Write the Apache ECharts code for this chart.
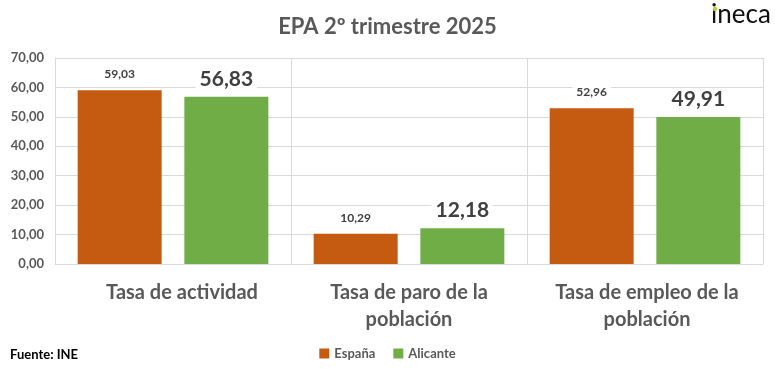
<!DOCTYPE html>
<html>
<head>
<meta charset="utf-8">
<script src="https://cdn.jsdelivr.net/npm/echarts@6/dist/echarts.min.js"></script>
<style>
html,body{margin:0;padding:0;background:#fff;}
#chart{width:775px;height:374px;}
</style>
</head>
<body>
<div id="chart"></div>
<script>
var categories = ['Tasa de actividad', 'Tasa de paro de la\npoblación', 'Tasa de empleo de la\npoblación'];
var espana = [59.03, 10.29, 52.96];
var alicante = [56.83, 12.18, 49.91];
var seriesNames = ['España', 'Alicante'];
var titleText = 'EPA 2º trimestre 2025';
var sourceText = 'Fuente: INE';

var FONT = 'Lato, "Open Sans", sans-serif';
function fmt(v){ return v.toFixed(2).replace('.', ','); }

var labelPad = [[0,0,0,18],[0,0,0,0],[0,0,0,4]];
var catData = categories.map(function(c, i){ return {value: c, textStyle: {padding: labelPad[i]}}; });

var chart = echarts.init(document.getElementById('chart'), null, {renderer:'canvas'});
chart.setOption({
  backgroundColor: '#ffffff',
  animation: false,
  title: {
    text: titleText, left: 'center', top: 11,
    textStyle: {fontFamily: FONT, fontSize: 22, fontWeight: 'bold', color: '#595959'}
  },
  legend: {
    bottom: 9, left: 'center', itemWidth: 10, itemHeight: 10, itemGap: 18,
    icon: 'rect',
    textStyle: {fontFamily: FONT, fontSize: 13, fontWeight: 'bold', color: '#595959'},
    data: seriesNames
  },
  graphic: [
    {type:'text', left: 10, top: 348, style:{text: sourceText, font: 'bold 13px ' + FONT, fill:'#000'}},
    {type:'text', left: 711, top: 2, style:{text: 'ineca', font: '26px ' + FONT, fill:'#111'}},
    {type:'circle', shape:{cx: 715, cy: 9, r: 2.2}, style:{fill:'#b5d334'}}
  ],
  grid: {left: 55, right: 12, top: 58, bottom: 110, containLabel: false},
  xAxis: {
    type: 'category', data: catData,
    axisLine: {show: true, lineStyle: {color: '#d9d9d9'}},
    axisTick: {show: false},
    splitLine: {show: true, lineStyle: {color: '#d9d9d9'}},
    axisLabel: {fontFamily: FONT, fontSize: 20, fontWeight: 'bold', color: '#595959', margin: 15, lineHeight: 27, interval: 0}
  },
  yAxis: {
    type: 'value', min: 0, max: 70, interval: 10,
    axisLine: {show: true, lineStyle: {color: '#d9d9d9'}},
    axisTick: {show: false},
    splitLine: {lineStyle: {color: '#d9d9d9'}},
    axisLabel: {fontFamily: FONT, fontSize: 13, fontWeight: 'bold', color: '#595959', margin: 11, formatter: function(v){return fmt(v);}}
  },
  series: [
    {
      name: seriesNames[0], type: 'bar', data: espana, barWidth: 84, barGap: '27%',
      itemStyle: {color: '#C55A11'},
      label: {show: true, position: 'top', distance: 8, fontFamily: FONT, fontSize: 12, fontWeight: 'bold', color: '#404040',
        backgroundColor: '#fff', padding: [2, 4], formatter: function(p){return fmt(p.value);}}
    },
    {
      name: seriesNames[1], type: 'bar', data: alicante, barWidth: 84,
      itemStyle: {color: '#70AD47'},
      label: {show: true, position: 'top', distance: 6, fontFamily: FONT, fontSize: 21, fontWeight: 'bold', color: '#404040',
        backgroundColor: '#fff', padding: [1, 4], formatter: function(p){return fmt(p.value);}}
    }
  ]
});
</script>
</body>
</html>
